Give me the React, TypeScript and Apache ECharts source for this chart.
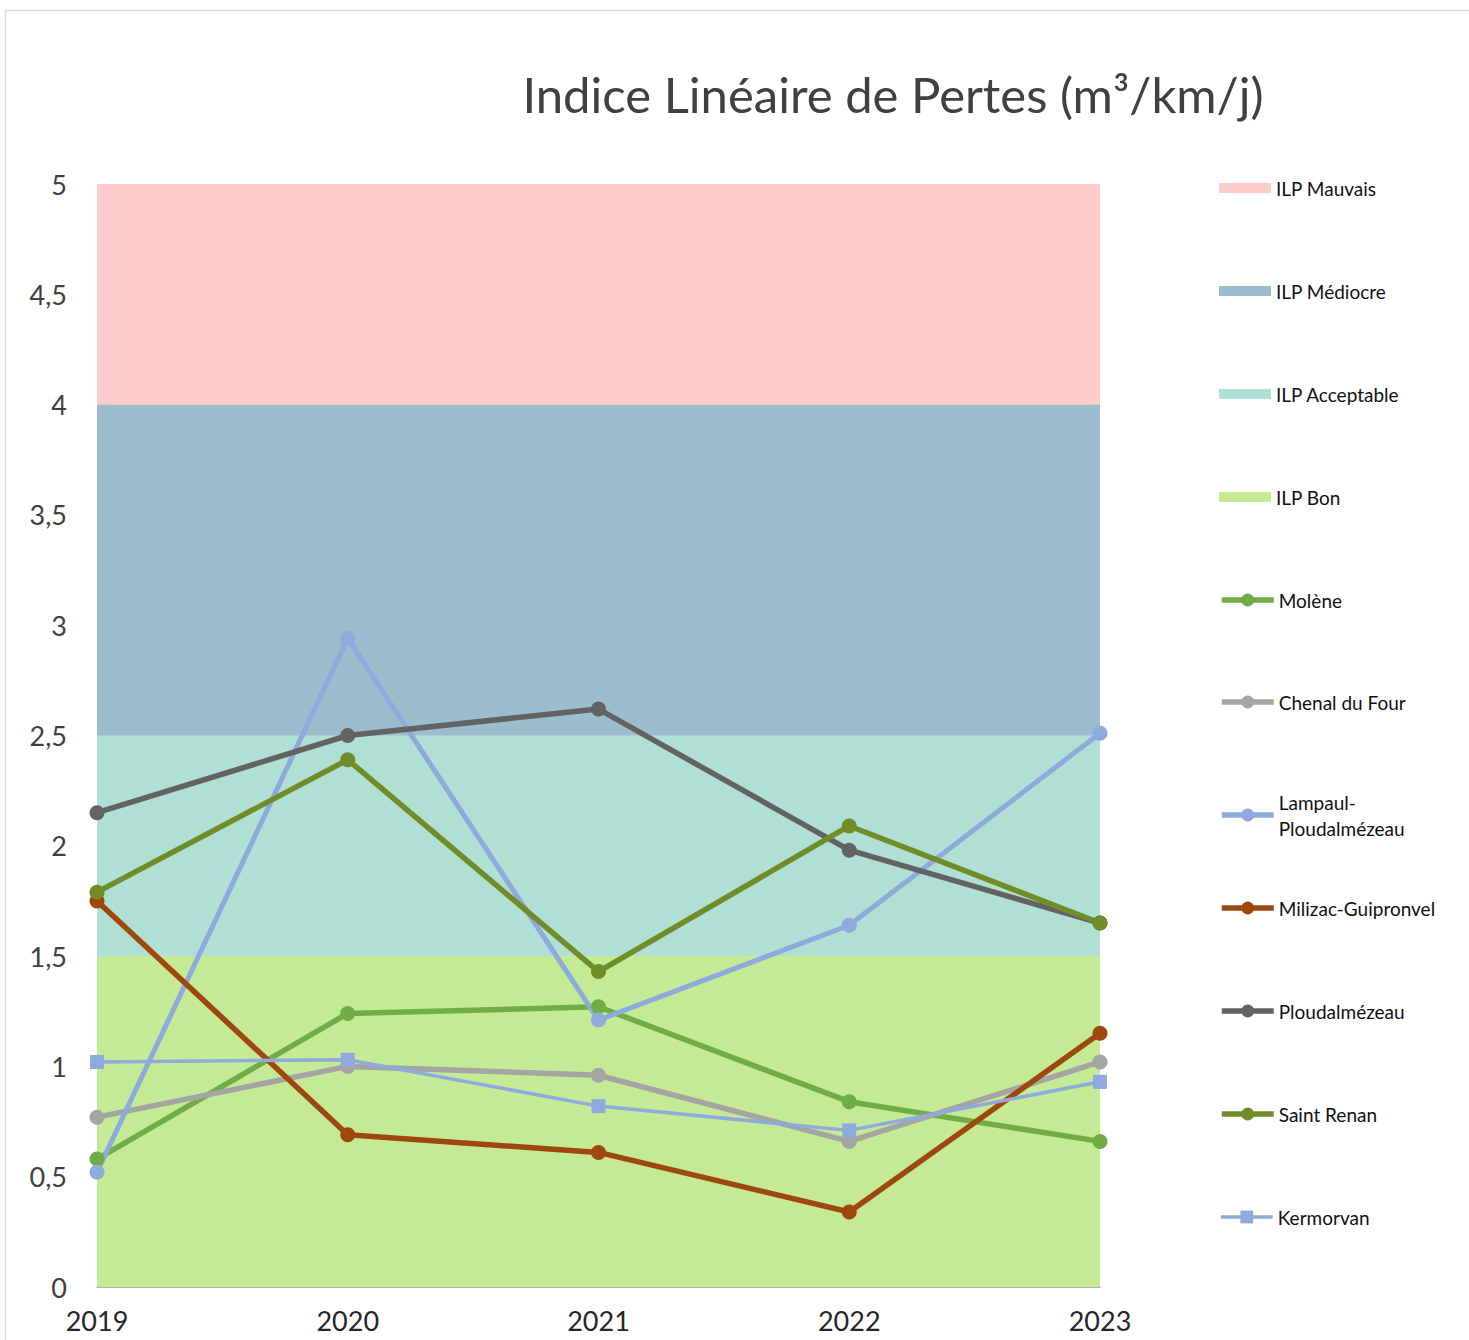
import React, { useEffect, useRef } from "react";
import * as echarts from "echarts";

const years = ["2019", "2020", "2021", "2022", "2023"];

// Bands (stacked thicknesses)
const bandBon = [1.5, 1.5, 1.5, 1.5, 1.5];
const bandAcceptable = [1, 1, 1, 1, 1];
const bandMediocre = [1.5, 1.5, 1.5, 1.5, 1.5];
const bandMauvais = [1, 1, 1, 1, 1];

// Series values
const molene = [0.58, 1.24, 1.27, 0.84, 0.66];
const chenalDuFour = [0.77, 1.0, 0.96, 0.66, 1.02];
const lampaul = [0.52, 2.94, 1.21, 1.64, 2.51];
const milizac = [1.75, 0.69, 0.61, 0.34, 1.15];
const ploudalmezeau = [2.15, 2.5, 2.62, 1.98, 1.65];
const saintRenan = [1.79, 2.39, 1.43, 2.09, 1.65];
const kermorvan = [1.02, 1.03, 0.82, 0.71, 0.93];

const FONT = "Lato, 'Open Sans', sans-serif";

export default function App() {
  const ref = useRef<HTMLDivElement>(null);
  useEffect(() => {
    document.body.style.margin = "0";
    const chart = echarts.init(ref.current!, undefined, { renderer: "svg" });

    const band = (name: string, data: number[], color: string) => ({
      name,
      type: "line",
      stack: "bands",
      data,
      color,
      symbol: "none",
      lineStyle: { width: 0 },
      areaStyle: { color, opacity: 1 },
      z: 1,
      silent: true,
    });
    const line = (name: string, data: number[], color: string, width = 5.5, symbol = "circle", size = 15) => ({
      name,
      type: "line",
      data,
      color,
      symbol,
      symbolSize: size,
      lineStyle: { width, color },
      itemStyle: { color },
      z: 3,
    });

    const legendItems: { name: string; y: number; rect?: boolean; fmt?: string; lw?: number }[] = [
      { name: "ILP Mauvais", y: 188, rect: true },
      { name: "ILP Médiocre", y: 291, rect: true },
      { name: "ILP Acceptable", y: 394, rect: true },
      { name: "ILP Bon", y: 497, rect: true },
      { name: "Molène", y: 600 },
      { name: "Chenal du Four", y: 702 },
      { name: "Lampaul-Ploudalmézeau", y: 805, fmt: "Lampaul-\nPloudalmézeau" },
      { name: "Milizac-Guipronvel", y: 908 },
      { name: "Ploudalmézeau", y: 1011 },
      { name: "Saint Renan", y: 1114 },
      { name: "Kermorvan", y: 1217, lw: 3.5 },
    ];

    const legends = legendItems.map((it) => ({
      show: true,
      orient: "vertical",
      left: 1214,
      top: it.fmt ? it.y - 21 : it.y - 16,
      itemWidth: 52,
      itemHeight: it.rect ? 10 : 16,
      itemGap: 6,
      selectedMode: false,
      lineStyle: { width: it.lw ?? 5.5 },
      data: [it.rect ? { name: it.name, icon: "rect" } : { name: it.name }],
      formatter: it.fmt ? () => it.fmt : undefined,
      textStyle: { fontFamily: FONT, fontSize: 19, color: "#111111", lineHeight: it.fmt ? 26 : 22 },
    }));

    chart.setOption({
      animation: false,
      backgroundColor: "#ffffff",
      graphic: [
        {
          type: "rect",
          shape: { x: 5.5, y: 10.5, width: 1600, height: 1600 },
          style: { fill: "none", stroke: "#D9D9D9", lineWidth: 1.5 },
          z: -10,
          silent: true,
        },
        {
          type: "text",
          x: 893,
          y: 94,
          style: {
            text: "Indice Linéaire de Pertes (m³/km/j)",
            fontFamily: FONT,
            fontSize: 49,
            fill: "#404040",
            align: "center",
            verticalAlign: "middle",
          },
        },
      ],
      legend: legends,
      grid: { left: 97, right: 369, top: 184, bottom: 53, containLabel: false },
      xAxis: {
        type: "category",
        data: years,
        boundaryGap: false,
        axisLine: { show: true, lineStyle: { color: "#A6A6A6", width: 1.5 } },
        axisTick: { show: false },
        axisLabel: { fontFamily: FONT, fontSize: 27, color: "#262626", margin: 20 },
        splitLine: { show: false },
      },
      yAxis: {
        type: "value",
        min: 0,
        max: 5,
        interval: 0.5,
        axisLine: { show: false },
        axisTick: { show: false },
        axisLabel: {
          fontFamily: FONT,
          fontSize: 27,
          color: "#404040",
          margin: 30,
          formatter: (v: number) => String(v).replace(".", ","),
        },
        splitLine: { show: true, lineStyle: { color: "#D9D9D9", width: 1 } },
      },
      series: [
        band("ILP Bon", bandBon, "#C5EA95"),
        band("ILP Acceptable", bandAcceptable, "#B0DFD3"),
        band("ILP Médiocre", bandMediocre, "#9BBDCD"),
        band("ILP Mauvais", bandMauvais, "#FFCCCC"),
        line("Molène", molene, "#70AD47"),
        line("Chenal du Four", chenalDuFour, "#A5A5A5"),
        line("Lampaul-Ploudalmézeau", lampaul, "#8FAADC", 5),
        line("Milizac-Guipronvel", milizac, "#9E480E"),
        line("Ploudalmézeau", ploudalmezeau, "#636363"),
        line("Saint Renan", saintRenan, "#718D29"),
        line("Kermorvan", kermorvan, "#8FAADC", 3.5, "rect", 14),
      ],
    });
    return () => chart.dispose();
  }, []);
  return <div ref={ref} style={{ width: 1469, height: 1340 }} />;
}
